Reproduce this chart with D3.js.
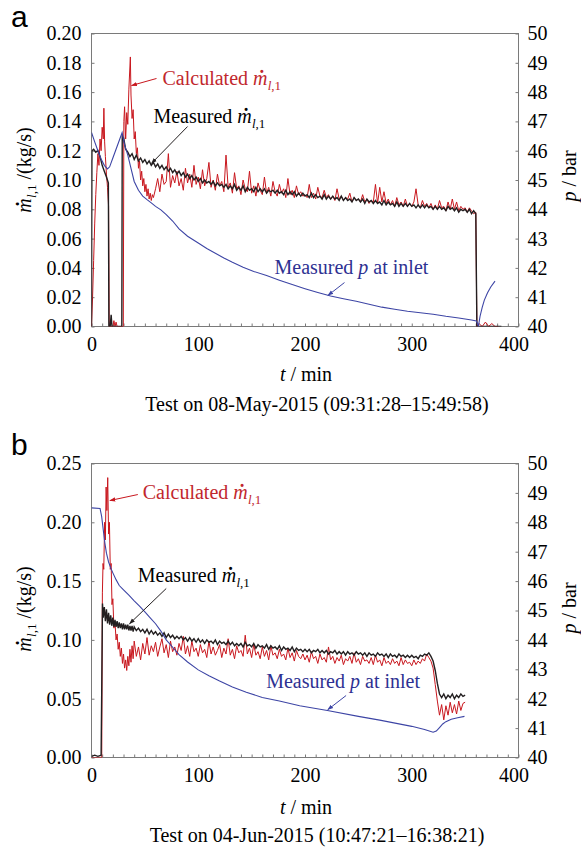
<!DOCTYPE html>
<html>
<head>
<meta charset="utf-8">
<script src="https://cdn.jsdelivr.net/npm/d3@7"></script>
<style>
body { margin: 0; background: #fff; }
</style>
</head>
<body>
<svg id="chart" width="581" height="851"></svg>
<script>
// ---- data, panel a (08-May-2015) ----
const aCalcTime = [0, 1, 2, 3, 4, 5, 6, 7, 8, 9, 10, 11, 11.6, 12.3, 13, 14, 15, 16, 16.6, 18, 20, 21, 22, 23, 24,
    29.8, 30.3, 31, 32, 33, 34, 35, 36.4, 37, 38, 39, 40, 41, 42, 43, 44, 45, 46, 47, 48, 49, 50, 51, 52, 53, 54, 55, 56, 57, 58,
    ...d3.range(60, 360, 2), 360, 361, 363, 366, 369, 372, 375, 378, 381];
const aCalcValue = [0, 0.02, 0.045, 0.07, 0.09, 0.105, 0.118, 0.11, 0.128, 0.12, 0.136, 0.128, 0.149, 0.126, 0.116, 0.104, 0.095, 0.082, 0, 0, 0, 0.004, 0, 0.003, 0,
    0, 0.14, 0.15, 0.128, 0.146, 0.138, 0.162, 0.184, 0.158, 0.142, 0.148, 0.128, 0.133, 0.118, 0.122, 0.108, 0.113, 0.1, 0.106, 0.096, 0.101, 0.092, 0.097, 0.089, 0.094, 0.087, 0.091, 0.086, 0.09, 0.088,
    0.094, 0.101, 0.092, 0.104, 0.097, 0.099, 0.118, 0.095, 0.103, 0.098,
    0.106, 0.096, 0.101, 0.093, 0.108, 0.098, 0.104, 0.095, 0.110, 0.097,
    0.102, 0.094, 0.107, 0.096, 0.101, 0.112, 0.095, 0.100, 0.093, 0.104,
    0.096, 0.099, 0.092, 0.117, 0.095, 0.098, 0.091, 0.105, 0.094, 0.096,
    0.090, 0.100, 0.094, 0.092, 0.106, 0.091, 0.096, 0.089, 0.098, 0.093,
    0.090, 0.102, 0.091, 0.095, 0.089, 0.099, 0.092, 0.089, 0.097, 0.091,
    0.094, 0.088, 0.101, 0.090, 0.093, 0.088, 0.096, 0.090, 0.092, 0.089,
    0.090, 0.088, 0.097, 0.088, 0.091, 0.087, 0.095, 0.089, 0.088, 0.093,
    0.088, 0.090, 0.087, 0.089, 0.086, 0.094, 0.087, 0.089, 0.086, 0.088,
    0.087, 0.091, 0.085, 0.088, 0.086, 0.087, 0.085, 0.090, 0.085, 0.087,
    0.084, 0.086, 0.085, 0.097, 0.084, 0.095, 0.085, 0.092, 0.084, 0.087,
    0.083, 0.086, 0.082, 0.088, 0.083, 0.085, 0.082, 0.087, 0.082, 0.084,
    0.082, 0.085, 0.094, 0.083, 0.081, 0.086, 0.082, 0.084, 0.081, 0.084,
    0.080, 0.083, 0.080, 0.086, 0.081, 0.082, 0.079, 0.085, 0.080, 0.087,
    0.080, 0.085, 0.079, 0.082, 0.080, 0.081, 0.078, 0.081, 0.079, 0.077,
    0.078, 0, 0.002, 0, 0.003, 0, 0.002, 0, 0];

const aMeasTime = [0, 0.4, 2, 4, 6, 8, 10, 12, 14, 15.8, 16.3, 17.5, 18.4, 19.2, 20, 28.4, 28.8, 29.4,
    ...d3.range(30, 360, 2), 360, 361, 384];
const aMeasValue = [0, 0.120, 0.121, 0.119, 0.120, 0.116, 0.110, 0.106, 0.102, 0.098, 0, 0, 0.008, 0, 0, 0, 0.131, 0.127,
    0.129, 0.121, 0.119, 0.116, 0.118, 0.114, 0.117, 0.113, 0.115, 0.112,
    0.114, 0.111, 0.113, 0.110, 0.112, 0.109, 0.111, 0.108, 0.110, 0.107,
    0.109, 0.106, 0.108, 0.105, 0.107, 0.104, 0.106, 0.103, 0.105, 0.102,
    0.104, 0.101, 0.103, 0.100, 0.102, 0.099, 0.101, 0.098, 0.100, 0.098,
    0.099, 0.097, 0.099, 0.096, 0.098, 0.096, 0.097, 0.095, 0.097, 0.094,
    0.096, 0.094, 0.097, 0.093, 0.095, 0.093, 0.096, 0.092, 0.095, 0.093,
    0.094, 0.092, 0.095, 0.092, 0.094, 0.092, 0.094, 0.091, 0.093, 0.092,
    0.093, 0.091, 0.093, 0.091, 0.092, 0.090, 0.093, 0.090, 0.092, 0.090,
    0.092, 0.089, 0.091, 0.089, 0.091, 0.089, 0.090, 0.088, 0.091, 0.088,
    0.090, 0.088, 0.089, 0.087, 0.090, 0.087, 0.089, 0.087, 0.089, 0.087,
    0.088, 0.086, 0.089, 0.086, 0.088, 0.086, 0.087, 0.085, 0.088, 0.086,
    0.087, 0.085, 0.087, 0.084, 0.087, 0.085, 0.086, 0.084, 0.086, 0.084,
    0.085, 0.083, 0.086, 0.083, 0.085, 0.083, 0.084, 0.082, 0.085, 0.082,
    0.084, 0.082, 0.084, 0.082, 0.084, 0.082, 0.083, 0.081, 0.083, 0.081,
    0.083, 0.081, 0.083, 0.081, 0.082, 0.080, 0.082, 0.080, 0.082, 0.080,
    0.081, 0.079, 0.082, 0.080, 0.081, 0.079, 0.081, 0.078, 0.080, 0.079,
    0.080, 0.078, 0.080, 0.077, 0.079,
    0.077, 0, 0];

const aPresTime = [0, 3, 6, 9, 12, 15, 17, 20, 23, 26, 28.7, 31, 34, 37, 40, 44, 48, 52, 56, 60, 65, 70, 76, 82, 90,
    100, 108, 116, 124, 132, 142, 152, 164, 176, 188, 200, 212, 224, 236, 248, 260, 272, 284, 296, 308, 320, 332, 344,
    356, 360.5, 362.5, 364, 366, 368, 371, 374, 378];
const aPresValue = [46.62, 46.3, 46.0, 45.72, 45.5, 45.38, 45.45, 45.75, 46.05, 46.35, 46.62, 46.2, 45.85, 45.4, 44.95,
    44.65, 44.45, 44.33, 44.22, 44.1, 43.98, 43.82, 43.6, 43.33, 43.08, 42.85, 42.66, 42.5, 42.34, 42.19, 42.02, 41.88,
    41.74, 41.58, 41.43, 41.29, 41.16, 41.04, 40.95, 40.86, 40.76, 40.66, 40.59, 40.52, 40.47, 40.42, 40.35, 40.29,
    40.22, 40.19, 40.02, 40.35, 40.65, 40.9, 41.15, 41.35, 41.55];

// ---- data, panel b (04-Jun-2015) ----
const bCalcTime = [0, 3, 6, 9, 9.6, 10.2, 10.8, 11.5, 12.3, 13, 13.7, 14.4, 15.2, 16, 16.8, 17.6, 18.4, 19.2,
    ...d3.range(20, 40, 1), ...d3.range(40, 318, 2), ...d3.range(318, 351, 2)];
const bCalcValue = [0, 0, 0, 0, 0, 0.14, 0.165, 0.16, 0.2, 0.185, 0.23, 0.21, 0.238, 0.19, 0.2, 0.16, 0.165, 0.13,
    0.135, 0.11, 0.115, 0.1, 0.105, 0.092, 0.098, 0.086, 0.093, 0.08, 0.088, 0.076, 0.083, 0.074, 0.086, 0.078, 0.092, 0.081, 0.095, 0.084,
    0.099, 0.086, 0.094, 0.083, 0.097, 0.088, 0.102, 0.087, 0.095, 0.090,
    0.098, 0.086, 0.094, 0.101, 0.089, 0.096, 0.085, 0.099, 0.090, 0.094,
    0.087, 0.097, 0.091, 0.103, 0.088, 0.095, 0.086, 0.099, 0.090, 0.093,
    0.086, 0.096, 0.089, 0.092, 0.085, 0.099, 0.088, 0.094, 0.087, 0.091,
    0.096, 0.085, 0.093, 0.088, 0.101, 0.087, 0.092, 0.084, 0.095, 0.089,
    0.091, 0.086, 0.104, 0.088, 0.093, 0.085, 0.096, 0.087, 0.090, 0.084,
    0.094, 0.086, 0.091, 0.083, 0.095, 0.087, 0.089, 0.084, 0.092, 0.086,
    0.088, 0.083, 0.093, 0.085, 0.089, 0.082, 0.091, 0.086, 0.084, 0.088,
    0.083, 0.087, 0.081, 0.090, 0.084, 0.086, 0.080, 0.088, 0.083, 0.085,
    0.081, 0.094, 0.083, 0.086, 0.080, 0.085, 0.082, 0.087, 0.079, 0.084,
    0.082, 0.086, 0.080, 0.089, 0.081, 0.084, 0.079, 0.086, 0.082, 0.083,
    0.080, 0.085, 0.079, 0.087, 0.081, 0.083, 0.078, 0.085, 0.080, 0.082,
    0.079, 0.084, 0.080, 0.082, 0.078, 0.085, 0.079, 0.083, 0.080, 0.081,
    0.078, 0.083, 0.079, 0.082, 0.080, 0.084, 0.082, 0.088, 0.085,
    0.082, 0.076, 0.062, 0.048, 0.036, 0.045, 0.032, 0.044, 0.036, 0.047, 0.038, 0.045, 0.037, 0.048, 0.04, 0.046, 0.047];

const bMeasTime = [0, 3, 6, 9, 9.6, 10.3, ...d3.range(11, 40, 1), ...d3.range(40, 318, 2), ...d3.range(318, 351, 2)];
const bMeasValue = [0.001, 0.002, 0.001, 0.002, 0.06, 0.131,
    0.119, 0.128, 0.116, 0.126, 0.114, 0.123, 0.113, 0.121, 0.112, 0.119, 0.111, 0.117, 0.111, 0.116, 0.110,
    0.115, 0.110, 0.114, 0.109, 0.114, 0.109, 0.113, 0.109, 0.113, 0.108, 0.112, 0.108, 0.112, 0.107,
    0.111, 0.108, 0.110, 0.107, 0.109, 0.106, 0.109, 0.105, 0.108, 0.105,
    0.107, 0.104, 0.106, 0.103, 0.106, 0.102, 0.105, 0.102, 0.104, 0.101,
    0.103, 0.101, 0.103, 0.100, 0.102, 0.099, 0.102, 0.099, 0.101, 0.098,
    0.101, 0.098, 0.100, 0.097, 0.100, 0.098, 0.099, 0.097, 0.100, 0.096,
    0.099, 0.097, 0.098, 0.096, 0.099, 0.096, 0.098, 0.095, 0.097, 0.095,
    0.097, 0.094, 0.098, 0.095, 0.096, 0.094, 0.097, 0.093, 0.096, 0.094,
    0.095, 0.093, 0.096, 0.092, 0.095, 0.093, 0.094, 0.092, 0.095, 0.091,
    0.094, 0.092, 0.093, 0.091, 0.094, 0.090, 0.093, 0.091, 0.092, 0.090,
    0.092, 0.090, 0.092, 0.089, 0.091, 0.090, 0.092, 0.089, 0.091, 0.089,
    0.091, 0.088, 0.090, 0.089, 0.091, 0.088, 0.090, 0.088, 0.090, 0.087,
    0.090, 0.088, 0.089, 0.087, 0.090, 0.088, 0.089, 0.087, 0.089, 0.086,
    0.089, 0.087, 0.088, 0.086, 0.089, 0.087, 0.088, 0.086, 0.088, 0.085,
    0.088, 0.086, 0.087, 0.085, 0.088, 0.086, 0.087, 0.085, 0.087, 0.085,
    0.087, 0.085, 0.086, 0.084, 0.087, 0.086, 0.088, 0.087, 0.089,
    0.086, 0.082, 0.074, 0.063, 0.054, 0.051, 0.054, 0.050, 0.053, 0.051, 0.054, 0.050, 0.053, 0.051, 0.054, 0.052, 0.053];

const bPresTime = [0, 8, 9.5, 11, 12.5, 14, 16, 18, 20, 23, 26, 30, 35, 40, 45, 50, 55, 60, 65, 70, 76, 82, 90, 100,
    110, 120, 132, 145, 160, 176, 195, 221, 250, 270, 300, 312, 320, 323, 326, 329, 332, 337, 343, 349.4];
const bPresValue = [48.49, 48.47, 48.2, 47.75, 47.3, 46.95, 46.65, 46.45, 46.28, 46.05, 45.85, 45.7, 45.52, 45.33,
    45.15, 44.95, 44.75, 44.55, 44.3, 44.0, 43.75, 43.5, 43.25, 42.98, 42.78, 42.6, 42.4, 42.22, 42.04, 41.92, 41.76,
    41.6, 41.4, 41.27, 41.06, 40.95, 40.86, 40.9, 41.02, 41.14, 41.22, 41.3, 41.35, 41.4];

// axis ticks and labels
const timeTicks = d3.range(0, 401, 10);
const pressureTicks = d3.range(40, 51, 1);
const aFlowTicks = d3.range(0, 0.201, 0.02);
const bFlowTicks = d3.range(0, 0.251, 0.05);

// ---- drawing ----
const serif = "'Liberation Serif', 'Times New Roman', serif";
const sans = "'Liberation Sans', Arial, sans-serif";
const redLine = '#c8171e', blackLine = '#231f20', blueLine = '#3d45a5';
const redText = '#c1272d', blueText = '#2e3192';
const frameColor = '#7a7a7a';
const plotLeft = 91.5, plotRight = 518.5;

const svg = d3.select('#chart');

// arrowheads
const defs = svg.append('defs');
[['red', redLine], ['black', blackLine], ['blue', blueLine]].forEach(([id, c]) => {
    defs.append('marker')
        .attr('id', 'arrow-' + id)
        .attr('viewBox', '0 0 10 10')
        .attr('refX', 9).attr('refY', 5)
        .attr('markerWidth', 6).attr('markerHeight', 6)
        .attr('orient', 'auto')
        .append('path')
        .attr('d', 'M0,1.5 L10,5 L0,8.5 z')
        .attr('fill', c);
});

// m with a dot and subscript l,1
function addMdot(sel)
{
    sel.append('tspan').attr('font-style', 'italic').text('m');
    sel.append('tspan').attr('dx', -9).attr('font-weight', 'bold').text('\u02D9');
    sel.append('tspan').attr('dx', 2.6).attr('dy', 5).attr('font-size', 13).attr('font-style', 'italic').text('l');
    sel.append('tspan').attr('font-size', 13).text(',1');
}

function drawPanel(p)
{
    const x = d3.scaleLinear().domain([0, 400]).range([plotLeft, plotRight]);
    const yL = d3.scaleLinear().domain([0, p.yMax]).range([p.bottom, p.top]);
    const yR = d3.scaleLinear().domain([40, 50]).range([p.bottom, p.top]);
    const g = svg.append('g');

    // clip for the data lines
    defs.append('clipPath').attr('id', 'clip-' + p.letter)
        .append('rect')
        .attr('x', plotLeft).attr('y', p.top)
        .attr('width', plotRight - plotLeft).attr('height', p.bottom - p.top);

    // axes, ticks pointing inward
    const styleAxis = s => {
        s.select('.domain').remove();
        s.selectAll('line').attr('stroke', frameColor);
        s.attr('font-family', serif).attr('font-size', 20);
        s.selectAll('text').attr('fill', '#000').style('font-family', serif);
    };

    g.append('g')
        .attr('transform', `translate(0,${p.bottom})`)
        .call(d3.axisBottom(x).tickValues(timeTicks).tickSize(-3).tickPadding(10)
            .tickFormat(d => d % 100 === 0 ? d : ''))
        .call(styleAxis)
        .call(s => s.selectAll('text').filter(d => d === 400).attr('dx', -5));

    g.append('g')
        .attr('transform', `translate(${plotLeft},0)`)
        .call(d3.axisLeft(yL).tickValues(p.flowTicks).tickSize(-3).tickPadding(10).tickFormat(d3.format('.2f')))
        .call(styleAxis);

    g.append('g')
        .attr('transform', `translate(${plotRight},0)`)
        .call(d3.axisRight(yR).tickValues(pressureTicks).tickSize(-3).tickPadding(9).tickFormat(d3.format('d')))
        .call(styleAxis);

    // frame
    g.append('rect')
        .attr('x', plotLeft).attr('y', p.top)
        .attr('width', plotRight - plotLeft).attr('height', p.bottom - p.top)
        .attr('fill', 'none')
        .attr('stroke', frameColor);

    // lines
    const flowLine = d3.line().x(d => x(d[0])).y(d => yL(d[1]));
    const presLine = d3.line().x(d => x(d[0])).y(d => yR(d[1]));
    const lines = g.append('g').attr('clip-path', `url(#clip-${p.letter})`).attr('fill', 'none');

    lines.append('path')
        .datum(d3.zip(p.calcT, p.calcV))
        .attr('d', flowLine)
        .attr('stroke', redLine)
        .attr('stroke-width', 1);

    lines.append('path')
        .datum(d3.zip(p.measT, p.measV))
        .attr('d', flowLine)
        .attr('stroke', blackLine)
        .attr('stroke-width', 1.4);

    lines.append('path')
        .datum(d3.zip(p.presT, p.presV))
        .attr('d', presLine)
        .attr('stroke', blueLine)
        .attr('stroke-width', 1.1);

    // annotations with arrows
    p.notes.forEach(n => {
        g.append('line')
            .attr('x1', x(n.from[0])).attr('y1', yL(n.from[1]))
            .attr('x2', x(n.to[0])).attr('y2', yL(n.to[1]))
            .attr('stroke', n.line)
            .attr('stroke-width', 1)
            .attr('marker-end', `url(#arrow-${n.marker})`);

        const t = g.append('text')
            .attr('x', x(n.at[0])).attr('y', yL(n.at[1]))
            .attr('font-family', serif).attr('font-size', 20)
            .attr('fill', n.color);
        if (n.kind === 'pres') {
            t.append('tspan').text('Measured ');
            t.append('tspan').attr('font-style', 'italic').text('p');
            t.append('tspan').text(' at inlet');
        } else {
            t.append('tspan').text(n.kind === 'calc' ? 'Calculated ' : 'Measured ');
            addMdot(t);
        }
    });

    // panel letter
    g.append('text')
        .attr('x', 11).attr('y', p.letterY)
        .attr('font-family', sans).attr('font-size', 30)
        .text(p.letter);

    // left axis title
    const yl = g.append('text')
        .attr('transform', `translate(31,${p.yLabelY}) rotate(-90)`)
        .attr('text-anchor', 'middle')
        .attr('font-family', serif).attr('font-size', 20);
    addMdot(yl);
    yl.append('tspan').attr('dy', -5).text(' /(kg/s)');

    // right axis title
    const yr = g.append('text')
        .attr('transform', `translate(576,${p.pLabelY}) rotate(-90)`)
        .attr('text-anchor', 'middle')
        .attr('font-family', serif).attr('font-size', 20);
    yr.append('tspan').attr('font-style', 'italic').text('p');
    yr.append('tspan').text(' / bar');

    // x axis title
    const xt = g.append('text')
        .attr('x', 306).attr('y', p.tLabelY)
        .attr('text-anchor', 'middle')
        .attr('font-family', serif).attr('font-size', 20);
    xt.append('tspan').attr('font-style', 'italic').text('t');
    xt.append('tspan').text(' / min');

    // caption
    g.append('text')
        .attr('x', 317).attr('y', p.titleY)
        .attr('text-anchor', 'middle')
        .attr('font-family', serif).attr('font-size', 20)
        .text(p.title);
}

drawPanel({
    letter: 'a', top: 33.5, bottom: 326.5, yMax: 0.2, flowTicks: aFlowTicks,
    calcT: aCalcTime, calcV: aCalcValue, measT: aMeasTime, measV: aMeasValue, presT: aPresTime, presV: aPresValue,
    letterY: 27, yLabelY: 170, pLabelY: 176, tLabelY: 381, titleY: 411,
    title: 'Test on 08-May-2015 (09:31:28\u201315:49:58)',
    notes: [
        { kind: 'calc', color: redText, line: redLine, marker: 'red', at: [66.5, 0.1651], from: [60.9, 0.1693], to: [37.5, 0.1645] },
        { kind: 'meas', color: '#000', line: blackLine, marker: 'black', at: [58, 0.1386], from: [90, 0.1365], to: [56.2, 0.1113] },
        { kind: 'pres', color: blueText, line: blueLine, marker: 'blue', at: [171.4, 0.0355], from: [237, 0.030], to: [221.5, 0.0212] }
    ]
});

drawPanel({
    letter: 'b', top: 463.5, bottom: 757.5, yMax: 0.25, flowTicks: bFlowTicks,
    calcT: bCalcTime, calcV: bCalcValue, measT: bMeasTime, measV: bMeasValue, presT: bPresTime, presV: bPresValue,
    letterY: 455, yLabelY: 609, pLabelY: 608, tLabelY: 814, titleY: 842,
    title: 'Test on 04-Jun-2015 (10:47:21\u201316:38:21)',
    notes: [
        { kind: 'calc', color: redText, line: redLine, marker: 'red', at: [48, 0.2194], from: [43.4, 0.2236], to: [17.2, 0.2185] },
        { kind: 'meas', color: '#000', line: blackLine, marker: 'black', at: [43.4, 0.149], from: [70, 0.1437], to: [35.6, 0.1137] },
        { kind: 'pres', color: blueText, line: blueLine, marker: 'blue', at: [163.6, 0.0587], from: [238.5, 0.0527], to: [221.3, 0.0406] }
    ]
});
</script>
</body>
</html>
